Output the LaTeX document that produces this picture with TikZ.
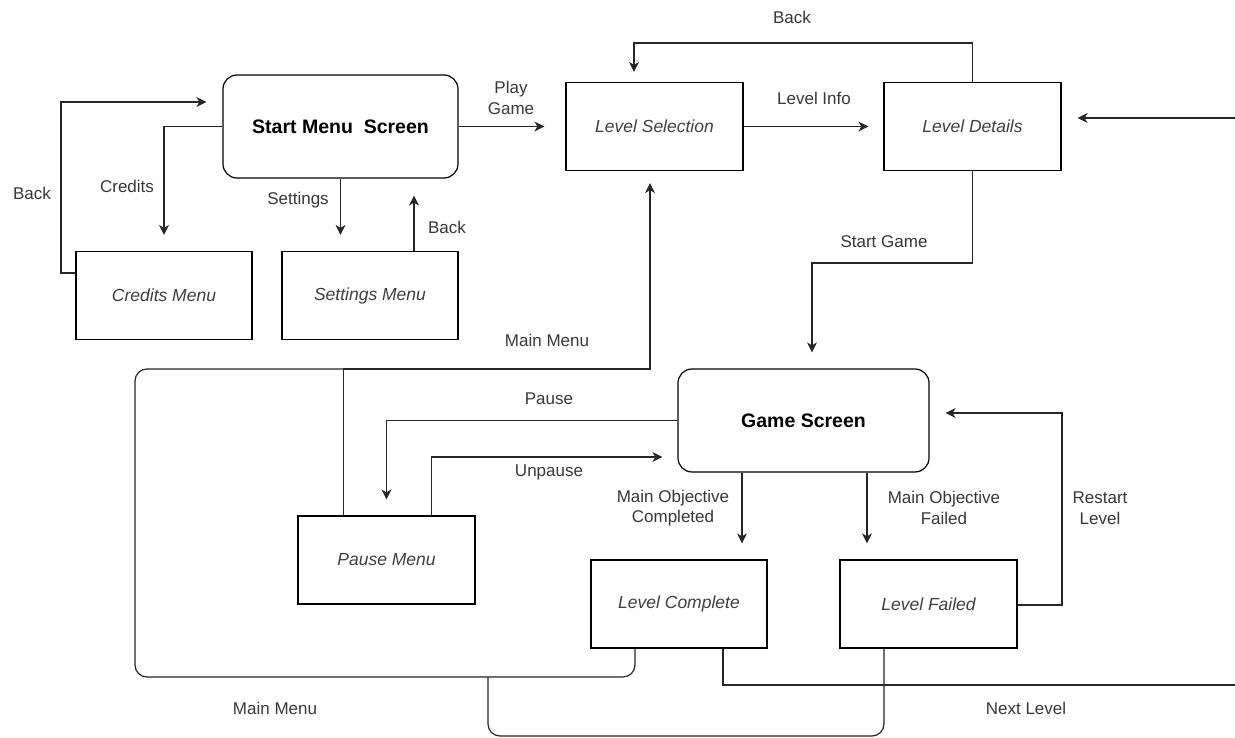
\documentclass[tikz,border=0pt]{standalone}
\usepackage{fontspec}
\setmainfont{Liberation Sans}
\usetikzlibrary{arrows.meta}
\begin{document}
\begin{tikzpicture}[x=1pt,y=-1pt,
  box/.style={draw=black, line width=1.2pt, minimum width=177pt, minimum height=88pt, inner sep=0pt, font=\fontsize{17.5}{21}\selectfont\itshape, text=black!75},
  screen/.style={box, rounded corners=14pt, font=\fontsize{19.5}{23}\selectfont\bfseries, text=black},
  lbl/.style={font=\fontsize{17}{20.5}\selectfont, text=black!78, align=center, inner sep=0pt},
  conn/.style={line width=1.2pt, draw=black!85},
  arr/.style={conn, -{Stealth[length=10pt,width=10pt,inset=3pt]}},
]
\fill[white] (0,0) rectangle (1235,738);
\useasboundingbox (0,0) rectangle (1235,738);

% nodes
\node[screen, minimum width=235pt, minimum height=103pt] (start) at (340.5,126.5) {Start Menu\ \ Screen};
\node[box] (levsel) at (654.5,126.5) {Level Selection};
\node[box] (levdet) at (972.5,126.5) {Level Details};
\node[box, minimum width=176pt] (credits) at (164,295.5) {Credits Menu};
\node[box, minimum width=176pt] (settings) at (370,295.5) {Settings Menu};
\node[screen, minimum width=251pt, minimum height=103pt] (game) at (803.5,420.5) {Game Screen};
\node[box] (pause) at (386.5,560) {Pause Menu};
\node[box, minimum width=176pt] (levcomp) at (679,604) {Level Complete};
\node[box] (levfail) at (928.5,604) {Level Failed};

% free-end coordinates
\coordinate (bktop) at (634,43);
\coordinate (rin) at (1235,118);
\coordinate (sg) at (812,263);
\coordinate (bl) at (61,102);
\coordinate (mm) at (650,369);
\coordinate (loopbl) at (135,677);
\coordinate (loopjoin) at (344,369);
\coordinate (failbot) at (488,736);
\coordinate (failjoin) at (488,677);
\coordinate (nlend) at (1235,685);
\coordinate (rs) at (1062,413);

% connectors
\draw[arr] (start.east) -- ([xshift=-21pt]levsel.west);
\draw[arr] (levsel.east) -- ([xshift=-15pt]levdet.west);
\draw[arr] (levdet.north) |- (bktop) -- ([xshift=-20.5pt,yshift=10pt]levsel.north);
\draw[arr] (rin) -- ([xshift=16pt,yshift=8.5pt]levdet.east);
\draw[arr] (levdet.south) |- (sg) -- ([xshift=8.5pt,yshift=16pt]game.north);
\draw[arr] (start.west) -| ([yshift=16pt]credits.north);
\draw[arr] ([yshift=22.5pt]credits.west) -| (bl) -- ([xshift=-16pt,yshift=24.5pt]start.west);
\draw[arr] (start.south) -- ([xshift=-29.5pt,yshift=16pt]settings.north);
\draw[arr] ([xshift=44pt]settings.north) -- ([xshift=73.5pt,yshift=-17pt]start.south);
\draw[arr] ([xshift=-43pt]pause.north) |- (mm) -- ([xshift=-4.5pt,yshift=-12pt]levsel.south);
\draw[conn, rounded corners=12pt] ([xshift=-44pt]levcomp.south) |- (loopbl) |- (loopjoin);
\draw[conn, rounded corners=12pt] ([xshift=-44.5pt]levfail.south) |- (failbot) -- (failjoin);
\draw[conn] ([xshift=44pt]levcomp.south) |- (nlend);
\draw[arr] (game.west) -| ([yshift=16pt]pause.north);
\draw[arr] ([xshift=45pt]pause.north) |- ([xshift=-15pt,yshift=-36.5pt]game.west);
\draw[arr] ([xshift=-61.5pt]game.south) -- ([xshift=63pt,yshift=16pt]levcomp.north);
\draw[arr] ([xshift=63.5pt]game.south) -- ([xshift=-61.5pt,yshift=16pt]levfail.north);
\draw[arr] ([yshift=-1pt]levfail.east) -| (rs) -- ([xshift=16pt,yshift=7.5pt]game.east);

% labels
\node[lbl] (lplay) at (511,98) {Play\\Game};
\node[lbl] (linfo) at (814,98) {Level Info};
\node[lbl] (lbacktop) at (792,17) {Back};
\node[lbl] (lstart) at (884,242) {Start Game};
\node[lbl] (lcred) at (127,186) {Credits};
\node[lbl] (lbackl) at (32,193) {Back};
\node[lbl] (lset) at (298,200) {Settings};
\node[lbl] (lbacks) at (447,227) {Back};
\node[lbl] (lmm1) at (547,340) {Main Menu};
\node[lbl] (lpause) at (549,399) {Pause};
\node[lbl] (lunp) at (549,472) {Unpause};
\node[lbl] (lmoc) at (673,508) {Main Objective\\Completed};
\node[lbl] (lmof) at (944,508) {Main Objective\\Failed};
\node[lbl] (lrest) at (1100,508) {Restart\\Level};
\node[lbl] (lmm2) at (275,708) {Main Menu};
\node[lbl] (lnext) at (1026,708) {Next Level};
\end{tikzpicture}
\end{document}
